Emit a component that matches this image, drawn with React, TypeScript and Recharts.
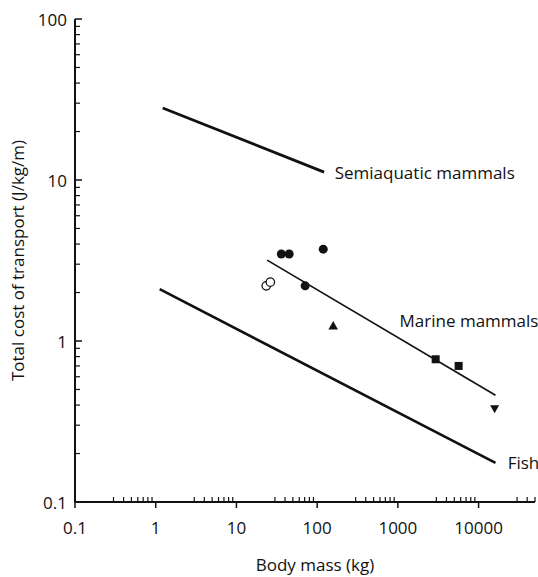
import React from 'react';
import { ComposedChart, XAxis, YAxis, Line, Scatter } from 'recharts';

// Tick values
const xMajorTicks = [0.1, 1, 10, 100, 1000, 10000];
const yMajorTicks = [0.1, 1, 10, 100];
const xMinorMultipliers = [3, 4, 5, 6, 7, 8, 9];
const yMinorMultipliers = [2, 3, 4, 5, 6, 7, 8, 9];

const X_MAX = 50000;
const xMinorTicks = xMajorTicks
  .flatMap((d) => xMinorMultipliers.map((m) => d * m))
  .filter((v) => v <= X_MAX * 1.0001);
const yMinorTicks = [0.1, 1, 10].flatMap((d) => yMinorMultipliers.map((m) => d * m));

// Regression lines (body mass kg, cost J/kg/m)
const semiaquaticLine = [
  { x: 1.22, y: 28 },
  { x: 122, y: 11.2 },
];
const fishLine = [
  { x: 1.12, y: 2.1 },
  { x: 16200, y: 0.175 },
];
const marineLine = [
  { x: 24, y: 3.18 },
  { x: 16200, y: 0.46 },
];

// Data points
const openCircles = [
  { x: 23.4, y: 2.2 },
  { x: 26.3, y: 2.32 },
];
const filledCircles = [
  { x: 36, y: 3.47 },
  { x: 45, y: 3.47 },
  { x: 119, y: 3.72 },
  { x: 71, y: 2.2 },
];
const trianglesUp = [{ x: 158, y: 1.24 }];
const squares = [
  { x: 2940, y: 0.77 },
  { x: 5660, y: 0.7 },
];
const trianglesDown = [{ x: 15800, y: 0.38 }];

// Line annotations
const annotations = [
  { x: 165, y: 11.2, label: 'Semiaquatic mammals' },
  { x: 1050, y: 1.35, label: 'Marine mammals' },
  { x: 22900, y: 0.175, label: 'Fish' },
];

const FONT = '"Open Sans", sans-serif';
const INK = '#111';

const xMajorSet = new Set(xMajorTicks);
const yMajorSet = new Set(yMajorTicks);

const fmt = (v: number) => (v < 1 ? String(v) : String(Math.round(v)));

const XTick = (props: any) => {
  const { x, y, payload } = props;
  const v = payload.value;
  const major = xMajorSet.has(v);
  if (major) {
    return (
      <g>
        <line x1={x} y1={y} x2={x} y2={y + 6} stroke={INK} strokeWidth={1.5} />
        <text x={x} y={y + 25} textAnchor="middle" dominantBaseline="central" fontSize={17} fill={INK} fontFamily={FONT}>
          {fmt(v)}
        </text>
      </g>
    );
  }
  return <line x1={x} y1={y} x2={x} y2={y - 5} stroke={INK} strokeWidth={1.2} />;
};

const YTick = (props: any) => {
  const { x, y, payload } = props;
  const v = payload.value;
  const major = yMajorSet.has(v);
  if (major) {
    return (
      <g>
        <line x1={x} y1={y} x2={x + 7} y2={y} stroke={INK} strokeWidth={1.5} />
        <text x={x - 8} y={y} textAnchor="end" dominantBaseline="central" fontSize={17} fill={INK} fontFamily={FONT}>
          {fmt(v)}
        </text>
      </g>
    );
  }
  return <line x1={x} y1={y} x2={x + 5} y2={y} stroke={INK} strokeWidth={1.2} />;
};

const FilledCircle = (p: any) => <circle cx={p.cx} cy={p.cy} r={4.5} fill={INK} />;
const OpenCircle = (p: any) => <circle cx={p.cx} cy={p.cy} r={4.2} fill="#fff" stroke={INK} strokeWidth={1.3} />;
const TriUp = (p: any) => (
  <path d={`M${p.cx},${p.cy - 5} L${p.cx + 4.8},${p.cy + 3.5} L${p.cx - 4.8},${p.cy + 3.5} Z`} fill={INK} />
);
const TriDown = (p: any) => (
  <path d={`M${p.cx - 4.5},${p.cy - 3.5} L${p.cx + 4.5},${p.cy - 3.5} L${p.cx},${p.cy + 4.5} Z`} fill={INK} />
);
const Square = (p: any) => <rect x={p.cx - 4} y={p.cy - 4} width={8} height={8} fill={INK} />;
const AnnotationText = (p: any) => (
  <text x={p.cx} y={p.cy} dominantBaseline="central" fontSize={17} fill={INK} fontFamily={FONT}>
    {p.payload && p.payload.label}
  </text>
);

const XLabel = (props: any) => {
  const vb = props.viewBox || {};
  return (
    <text x={vb.x + vb.width / 2 + 10} y={vb.y + 62} textAnchor="middle" dominantBaseline="central" fontSize={17} fill={INK} fontFamily={FONT}>
      Body mass (kg)
    </text>
  );
};

const YLabel = (props: any) => {
  const vb = props.viewBox || {};
  const cx = 17;
  const cy = vb.y + vb.height / 2;
  return (
    <text x={cx} y={cy} transform={`rotate(-90 ${cx} ${cy})`} textAnchor="middle" dominantBaseline="central" fontSize={17} fill={INK} fontFamily={FONT}>
      Total cost of transport (J/kg/m)
    </text>
  );
};

export default function App() {
  return (
    <div style={{ position: 'absolute', left: 0, top: 0, background: '#fff', fontFamily: FONT }}>
      <ComposedChart width={538} height={577} margin={{ top: 19, right: 3, bottom: 0, left: 0 }}>
        <XAxis
          dataKey="x"
          type="number"
          scale="log"
          domain={[0.1, X_MAX]}
          ticks={[...xMajorTicks, ...xMinorTicks]}
          interval={0}
          tickSize={0}
          tickMargin={0}
          tickLine={false}
          tick={<XTick />}
          axisLine={{ stroke: INK, strokeWidth: 2 }}
          height={75}
          label={<XLabel />}
        />
        <YAxis
          dataKey="y"
          type="number"
          scale="log"
          domain={[0.1, 100]}
          ticks={[...yMajorTicks, ...yMinorTicks]}
          interval={0}
          tickSize={0}
          tickMargin={0}
          tickLine={false}
          tick={<YTick />}
          axisLine={{ stroke: INK, strokeWidth: 2 }}
          width={75}
          label={<YLabel />}
        />
        <Line data={semiaquaticLine} dataKey="y" stroke={INK} strokeWidth={2.8} dot={false} activeDot={false} isAnimationActive={false} />
        <Line data={fishLine} dataKey="y" stroke={INK} strokeWidth={2.7} dot={false} activeDot={false} isAnimationActive={false} />
        <Line data={marineLine} dataKey="y" stroke={INK} strokeWidth={1.7} dot={false} activeDot={false} isAnimationActive={false} />
        <Scatter data={openCircles} dataKey="y" shape={<OpenCircle />} isAnimationActive={false} />
        <Scatter data={filledCircles} dataKey="y" shape={<FilledCircle />} isAnimationActive={false} />
        <Scatter data={trianglesUp} dataKey="y" shape={<TriUp />} isAnimationActive={false} />
        <Scatter data={squares} dataKey="y" shape={<Square />} isAnimationActive={false} />
        <Scatter data={trianglesDown} dataKey="y" shape={<TriDown />} isAnimationActive={false} />
        <Scatter data={annotations} dataKey="y" shape={<AnnotationText />} isAnimationActive={false} />
      </ComposedChart>
    </div>
  );
}
